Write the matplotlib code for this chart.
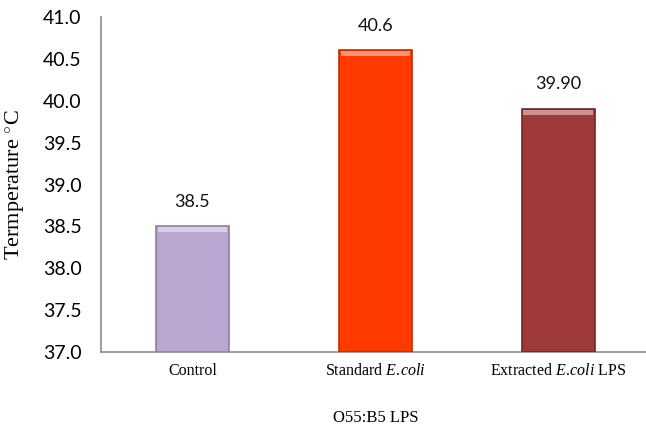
import matplotlib.pyplot as plt
import matplotlib.colors as mcolors
import numpy as np

categories = ["Control", "Standard", "Extracted"]
temps = [38.5, 40.6, 39.9]
value_labels = ["38.5", "40.6", "39.90"]
tick_labels = ["Control", r"Standard $\mathit{E.\!coli}$",
               r"Extracted $\mathit{E.\!coli}$ LPS"]
bar_colors = ["#B9A6D1", "#FF3A00", "#9E3A39"]
edge_colors = ["#8E7FA3", "#C22C00", "#6E2826"]
yticks = np.arange(37.0, 41.01, 0.5)

plt.rcParams["mathtext.fontset"] = "custom"
plt.rcParams["mathtext.rm"] = "Liberation Serif"
plt.rcParams["mathtext.it"] = "Liberation Serif:italic"

fig = plt.figure(figsize=(6.46, 4.32), dpi=100)
ax = fig.add_axes([101 / 646, 80 / 432, 545 / 646, 335 / 432])

x = np.arange(len(categories))
ax.bar(x, [t - 37.0 for t in temps], bottom=37.0, width=0.4,
       color=bar_colors, edgecolor=edge_colors, linewidth=1.2, zorder=3)

# light bevel strip on top of each bar
light = [tuple(0.55 * np.array(mcolors.to_rgb(c)) + 0.45) for c in bar_colors]
ax.bar(x, 0.06, bottom=[t - 0.07 for t in temps], width=0.38,
       color=light, linewidth=0, zorder=4)

for xi, t, lab in zip(x, temps, value_labels):
    ax.text(xi, t + 0.2, lab, ha="center", va="bottom",
            fontsize=13, family="Lato", color="#111111")

ax.set_xlim(-0.5, 2.48)
ax.set_ylim(37.0, 41.0)
ax.set_yticks(yticks)
ax.set_yticklabels([f"{v:.1f}" for v in yticks], family="Lato", fontsize=14)
ax.tick_params(axis="y", length=0, pad=14)
ax.tick_params(axis="x", length=0, pad=8)

ax.set_xticks(x)
ax.set_xticklabels(tick_labels, family="Liberation Serif", fontsize=11.5)

for s in ["top", "right"]:
    ax.spines[s].set_visible(False)
for s in ["left", "bottom"]:
    ax.spines[s].set_color("#8C8C8C")
    ax.spines[s].set_linewidth(1.2)

ax.set_ylabel("Termperature $^{\\circ}$C", family="Liberation Serif",
              fontsize=16, labelpad=12)
fig.text(376 / 646, 1 - 418 / 432, "O55:B5 LPS", ha="center", va="center",
         family="Liberation Serif", fontsize=12)

fig.savefig("out.png", dpi=100)
